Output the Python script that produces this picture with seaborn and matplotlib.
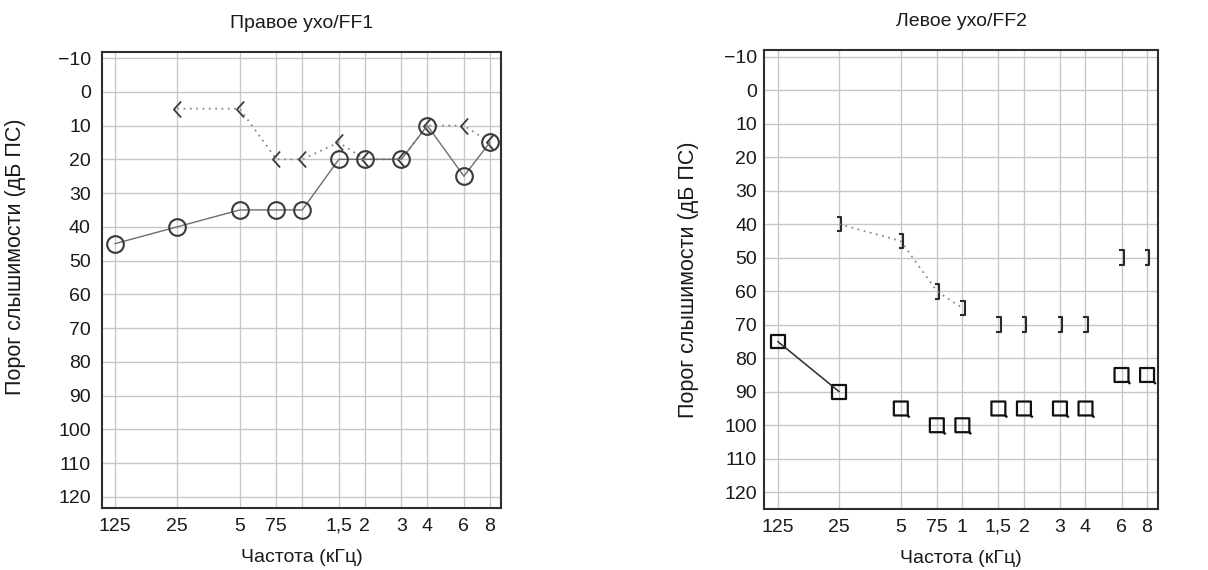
import numpy as np
import pandas as pd
import matplotlib
matplotlib.use("Agg")
import matplotlib.pyplot as plt
from matplotlib.path import Path
import seaborn as sns

# Audiometric frequencies (Hz) and their axis labels
freqs = [125, 250, 500, 750, 1000, 1500, 2000, 3000, 4000, 6000, 8000]
xlabels_right = ["125", "25", "5", "75", "", "1,5", "2", "3", "4", "6", "8"]
xlabels_left = ["125", "25", "5", "75", "1", "1,5", "2", "3", "4", "6", "8"]
db_ticks = list(range(-10, 121, 10))
db_labels = ["\u221210"] + [str(v) for v in db_ticks[1:]]

# Right ear: air conduction (O) and bone conduction (<), dB HL
right_air = [45, 40, 35, 35, 35, 20, 20, 20, 10, 25, 15]
right_bone = [None, 5, 5, 20, 20, 15, 20, 20, 10, 10, 15]

# Left ear: masked air conduction ([]) and masked bone conduction (]), dB HL
left_air = [75, 90, 95, 100, 100, 95, 95, 95, 95, 85, 85]
left_bone = [None, 40, 45, 60, 65, 70, 70, 70, 70, 50, 50]

titles = ["Правое ухо/FF1", "Левое ухо/FF2"]
xlabel = "Частота (кГц)"
ylabel = "Порог слышимости (дБ ПС)"

sns.set_theme(style="white")
plt.rcParams["font.family"] = ["Liberation Sans", "DejaVu Sans"]

FS = 14

# Audiogram symbols
LT = Path([(0.45, 1), (-0.45, 0), (0.45, -1)],
          [Path.MOVETO, Path.LINETO, Path.LINETO])
BRACKET = Path([(-0.3, 1), (0.3, 1), (0.3, -1), (-0.3, -1)],
               [Path.MOVETO, Path.LINETO, Path.LINETO, Path.LINETO])
SQUARE = Path([(-1, 1), (1, 1), (1, -1), (-1, -1), (-1, 1)],
              [Path.MOVETO, Path.LINETO, Path.LINETO, Path.LINETO,
               Path.CLOSEPOLY])
SQUARE_TAIL = Path([(-1, 1), (1, 1), (1, -1), (-1, -1), (-1, 1),
                    (1, -1), (1.25, -1.3)],
                   [Path.MOVETO, Path.LINETO, Path.LINETO, Path.LINETO,
                    Path.CLOSEPOLY, Path.MOVETO, Path.LINETO])

fig = plt.figure(figsize=(12.08, 5.70), dpi=100, facecolor="white")
ax_r = fig.add_axes([0.0844, 0.1088, 0.3303, 0.800])
ax_l = fig.add_axes([0.6325, 0.1070, 0.3262, 0.8053])

grid_col = "#c3c8d0"
frame_col = "#2e2e2e"
ink = "#3a3a3a"
text_col = "#1a1a1a"


def style_axes(ax, xlim, ylim, xlabels, ypad, ylab_pos):
    ax.set_xscale("log")
    ax.set_xlim(*xlim)
    ax.set_ylim(*ylim)
    ax.set_xticks(freqs)
    ax.set_xticklabels(xlabels)
    ax.xaxis.set_minor_locator(matplotlib.ticker.NullLocator())
    ax.set_yticks(db_ticks)
    ax.set_yticklabels(db_labels)
    ax.tick_params(axis="both", length=0, labelsize=FS, colors=text_col)
    ax.tick_params(axis="x", pad=7)
    ax.tick_params(axis="y", pad=ypad)
    ax.grid(True, color=grid_col, lw=1.0)
    ax.set_axisbelow(True)
    for s in ax.spines.values():
        s.set_visible(True)
        s.set_color(frame_col)
        s.set_linewidth(1.5)
    ax.set_facecolor("white")
    ax.set_xlabel(xlabel, fontsize=FS, color=text_col)
    ax.set_ylabel(ylabel, fontsize=FS + 1.5, color=text_col)
    ax.xaxis.set_label_coords(0.5, -0.09)
    ax.yaxis.set_label_coords(*ylab_pos)


# Right ear panel
df_ra = pd.DataFrame({"f": freqs, "db": right_air})
df_rb = pd.DataFrame({"f": freqs, "db": right_bone}).dropna()
sns.lineplot(data=df_rb, x="f", y="db", ax=ax_r, estimator=None, sort=False,
             color="#8a8a8a", lw=1.3, linestyle=(0, (1, 2.5)),
             marker=LT, markersize=11.5, mfc="none", mec=ink, mew=1.3)
sns.lineplot(data=df_ra, x="f", y="db", ax=ax_r, estimator=None, sort=False,
             color="#6e6e6e", lw=1.0,
             marker="o", markersize=12, mfc="none", mec=ink, mew=1.5)
ax_r.set_title(titles[0], fontsize=FS, pad=17, color=text_col)
style_axes(ax_r, (108.5, 9048), (123.3, -11.8), xlabels_right, 8,
           (-0.19, 0.55))

# Left ear panel
df_la = pd.DataFrame({"f": freqs, "db": left_air})
df_lb = pd.DataFrame({"f": freqs, "db": left_bone}).dropna()
sns.lineplot(data=df_lb.iloc[:4], x="f", y="db", ax=ax_l, estimator=None,
             sort=False, color="#8a8a8a", lw=1.3, linestyle=(0, (1, 2.5)))
sns.scatterplot(data=df_lb, x="f", y="db", ax=ax_l, marker=BRACKET, s=110,
                facecolors="none", edgecolors="#2a2a2a", linewidths=1.5)
sns.lineplot(data=df_la.iloc[:2], x="f", y="db", ax=ax_l, estimator=None,
             sort=False, color="#2a2a2a", lw=1.1)
sns.scatterplot(data=df_la.iloc[:2], x="f", y="db", ax=ax_l, marker=SQUARE,
                s=100, facecolors="none", edgecolors="#111111", linewidths=1.6)
sns.scatterplot(data=df_la.iloc[2:], x="f", y="db", ax=ax_l,
                marker=SQUARE_TAIL, s=170, facecolors="none",
                edgecolors="#111111", linewidths=1.6)
ax_l.set_title(titles[1], fontsize=FS, pad=17, color=text_col)
style_axes(ax_l, (107.2, 9060), (125, -12), xlabels_left, 5,
           (-0.165, 0.5))

fig.savefig("out.png", dpi=100, facecolor="white")
